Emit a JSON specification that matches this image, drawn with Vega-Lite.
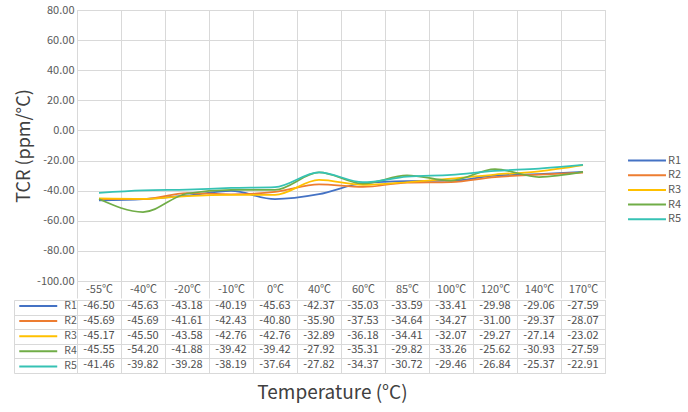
{
  "$schema": "https://vega.github.io/schema/vega-lite/v6.json",
  "padding": {"left": 13, "top": 3, "right": 0, "bottom": 0},
  "background": "white",
  "spacing": 0,
  "config": {
    "font": "Noto Sans CJK SC",
    "locale": {"number": {"decimal": ".", "thousands": ",", "grouping": [3], "currency": ["$", ""], "minus": "-"}},
    "view": {"stroke": "#d9d9d9"},
    "axis": {"gridColor": "#d9d9d9", "domainColor": "#d9d9d9", "tickColor": "#d9d9d9", "labelColor": "#595959", "labelFontSize": 11, "titleColor": "#404040", "titleFontWeight": "normal", "titleFontSize": 16},
    "legend": {"padding": 0, "labelColor": "#595959", "labelFontSize": 11, "symbolType": "M-4,0H4", "symbolSize": 90, "symbolStrokeWidth": 2, "title": null}
  },
  "data": {"values": [
    {"series": "R1", "temp": "-55℃", "value": -46.50}, {"series": "R1", "temp": "-40℃", "value": -45.63}, {"series": "R1", "temp": "-20℃", "value": -43.18}, {"series": "R1", "temp": "-10℃", "value": -40.19}, {"series": "R1", "temp": "0℃", "value": -45.63}, {"series": "R1", "temp": "40℃", "value": -42.37}, {"series": "R1", "temp": "60℃", "value": -35.03}, {"series": "R1", "temp": "85℃", "value": -33.59}, {"series": "R1", "temp": "100℃", "value": -33.41}, {"series": "R1", "temp": "120℃", "value": -29.98}, {"series": "R1", "temp": "140℃", "value": -29.06}, {"series": "R1", "temp": "170℃", "value": -27.59},
    {"series": "R2", "temp": "-55℃", "value": -45.69}, {"series": "R2", "temp": "-40℃", "value": -45.69}, {"series": "R2", "temp": "-20℃", "value": -41.61}, {"series": "R2", "temp": "-10℃", "value": -42.43}, {"series": "R2", "temp": "0℃", "value": -40.80}, {"series": "R2", "temp": "40℃", "value": -35.90}, {"series": "R2", "temp": "60℃", "value": -37.53}, {"series": "R2", "temp": "85℃", "value": -34.64}, {"series": "R2", "temp": "100℃", "value": -34.27}, {"series": "R2", "temp": "120℃", "value": -31.00}, {"series": "R2", "temp": "140℃", "value": -29.37}, {"series": "R2", "temp": "170℃", "value": -28.07},
    {"series": "R3", "temp": "-55℃", "value": -45.17}, {"series": "R3", "temp": "-40℃", "value": -45.50}, {"series": "R3", "temp": "-20℃", "value": -43.58}, {"series": "R3", "temp": "-10℃", "value": -42.76}, {"series": "R3", "temp": "0℃", "value": -42.76}, {"series": "R3", "temp": "40℃", "value": -32.89}, {"series": "R3", "temp": "60℃", "value": -36.18}, {"series": "R3", "temp": "85℃", "value": -34.41}, {"series": "R3", "temp": "100℃", "value": -32.07}, {"series": "R3", "temp": "120℃", "value": -29.27}, {"series": "R3", "temp": "140℃", "value": -27.14}, {"series": "R3", "temp": "170℃", "value": -23.02},
    {"series": "R4", "temp": "-55℃", "value": -45.55}, {"series": "R4", "temp": "-40℃", "value": -54.20}, {"series": "R4", "temp": "-20℃", "value": -41.88}, {"series": "R4", "temp": "-10℃", "value": -39.42}, {"series": "R4", "temp": "0℃", "value": -39.42}, {"series": "R4", "temp": "40℃", "value": -27.92}, {"series": "R4", "temp": "60℃", "value": -35.31}, {"series": "R4", "temp": "85℃", "value": -29.82}, {"series": "R4", "temp": "100℃", "value": -33.26}, {"series": "R4", "temp": "120℃", "value": -25.62}, {"series": "R4", "temp": "140℃", "value": -30.93}, {"series": "R4", "temp": "170℃", "value": -27.59},
    {"series": "R5", "temp": "-55℃", "value": -41.46}, {"series": "R5", "temp": "-40℃", "value": -39.82}, {"series": "R5", "temp": "-20℃", "value": -39.28}, {"series": "R5", "temp": "-10℃", "value": -38.19}, {"series": "R5", "temp": "0℃", "value": -37.64}, {"series": "R5", "temp": "40℃", "value": -27.82}, {"series": "R5", "temp": "60℃", "value": -34.37}, {"series": "R5", "temp": "85℃", "value": -30.72}, {"series": "R5", "temp": "100℃", "value": -29.46}, {"series": "R5", "temp": "120℃", "value": -26.84}, {"series": "R5", "temp": "140℃", "value": -25.37}, {"series": "R5", "temp": "170℃", "value": -22.91}
  ]},
  "vconcat": [
    {
      "width": 528,
      "height": 271,
      "mark": {"type": "line", "interpolate": "monotone", "strokeWidth": 1.75},
      "encoding": {
        "x": {
          "field": "temp", "type": "ordinal",
          "sort": ["-55℃", "-40℃", "-20℃", "-10℃", "0℃", "40℃", "60℃", "85℃", "100℃", "120℃", "140℃", "170℃"],
          "scale": {"type": "band", "paddingInner": 0, "paddingOuter": 0},
          "axis": {"title": null, "tickBand": "extent", "grid": true, "ticks": true, "tickSize": 17, "domain": false, "labelAngle": 0, "labelBaseline": "middle", "labelPadding": -9, "labelFontSize": 11}
        },
        "y": {
          "field": "value", "type": "quantitative",
          "scale": {"domain": [-100, 80], "nice": false, "zero": false},
          "axis": {"title": "TCR (ppm/°C)", "titleFontSize": 18, "values": [-100, -80, -60, -40, -20, 0, 20, 40, 60, 80], "format": ".2f", "domain": false, "ticks": false, "labelPadding": 3, "titlePadding": 3}
        },
        "color": {
          "field": "series", "type": "nominal",
          "scale": {"domain": ["R1", "R2", "R3", "R4", "R5"], "range": ["#4472C4", "#ED7D31", "#FFC000", "#70AD47", "#36C2B4"]},
          "legend": {"orient": "none", "legendX": 564, "legendY": 144.5, "labelOffset": 15, "rowPadding": 3.7}
        }
      }
    },
    {
      "width": 528,
      "height": 73,
      "encoding": {
        "x": {
          "field": "temp", "type": "ordinal",
          "sort": ["-55℃", "-40℃", "-20℃", "-10℃", "0℃", "40℃", "60℃", "85℃", "100℃", "120℃", "140℃", "170℃"],
          "scale": {"type": "band", "paddingInner": 0, "paddingOuter": 0},
          "axis": {"title": "Temperature (°C)", "titleFontSize": 19, "tickBand": "extent", "grid": true, "ticks": false, "labels": false, "domain": false, "titlePadding": 10, "titleX": 255}
        },
        "y": {
          "field": "series", "type": "nominal",
          "sort": ["R1", "R2", "R3", "R4", "R5"],
          "scale": {"type": "band", "paddingInner": 0, "paddingOuter": 0},
          "axis": {"title": null, "tickBand": "extent", "grid": true, "ticks": true, "tickSize": -63, "offset": 63, "labels": false, "domain": true}
        }
      },
      "layer": [
        {
          "mark": {"type": "text", "fontSize": 11, "color": "#505050", "dy": -1},
          "encoding": {"text": {"field": "value", "type": "quantitative", "format": ".2f"}}
        },
        {
          "transform": [{"filter": "false"}],
          "mark": {"type": "rule"},
          "encoding": {
            "color": {
              "field": "series", "type": "nominal",
              "scale": {"domain": ["R1", "R2", "R3", "R4", "R5"], "range": ["#4472C4", "#ED7D31", "#FFC000", "#70AD47", "#36C2B4"]},
              "legend": {"orient": "none", "legendX": -44.75, "legendY": 0, "labelOffset": 20, "rowPadding": 3.1, "labelFontSize": 10.5}
            }
          }
        }
      ]
    }
  ],
  "resolve": {"legend": {"color": "independent"}}
}
